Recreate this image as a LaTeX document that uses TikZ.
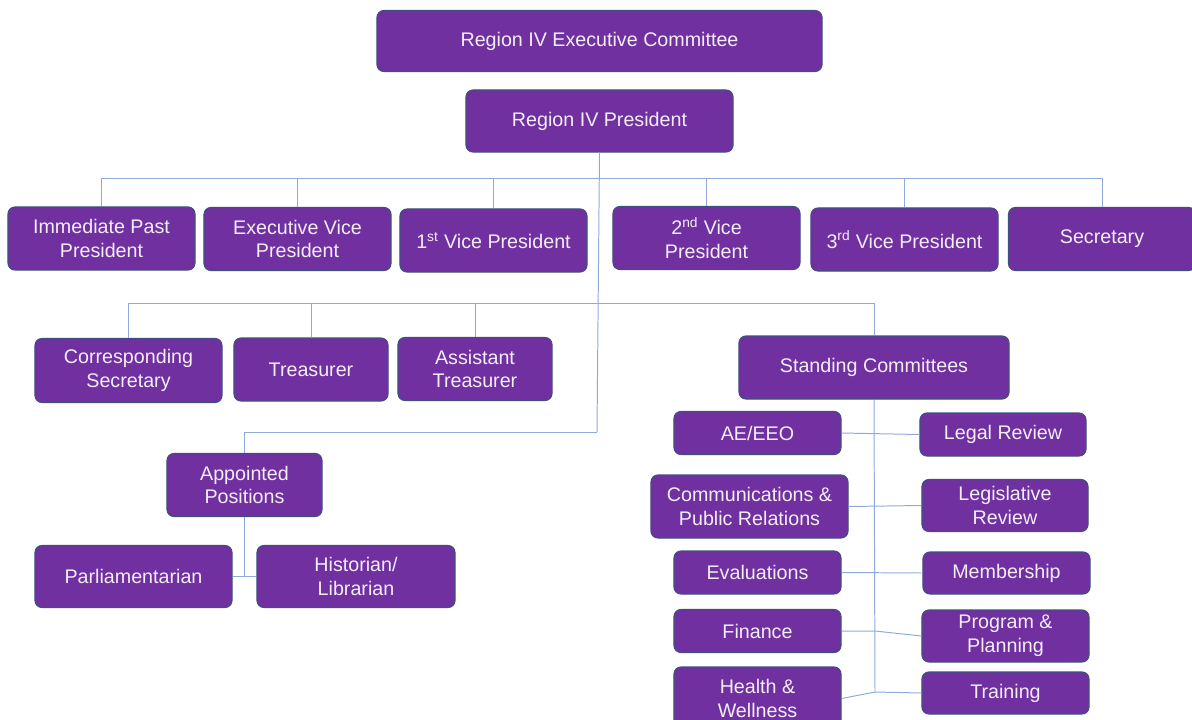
\documentclass[tikz,border=0pt]{standalone}
\usepackage{fontspec}
\setmainfont{Liberation Sans}
\usepackage{tikz}
\usetikzlibrary{calc}

\definecolor{boxfill}{HTML}{7030A0}
\definecolor{boxedge}{HTML}{3F4F82}
\definecolor{linkblue}{HTML}{8EAADB}
\definecolor{boxtext}{HTML}{F4EEF8}

\begin{document}
\begin{tikzpicture}[x=0.025cm,y=-0.025cm]
		\tikzstyle{orgbox}=[draw=boxedge,line width=0.8pt,fill=boxfill,rounded corners=5pt,
			text=boxtext,align=center,inner sep=1pt,font=\fontsize{14}{17}\selectfont]
		\tikzstyle{link}=[draw=linkblue,line width=0.7pt]
		\useasboundingbox (0,0) rectangle (1192,719);
		
		% top
		\node[orgbox,minimum width=11.125cm,minimum height=1.525cm] (exec) at (599.5,41) {Region IV Executive Committee};
		\node[orgbox,minimum width=6.675cm,minimum height=1.55cm] (pres) at (599.5,121) {Region IV President};
		
		% officers
		\node[orgbox,minimum width=4.675cm,minimum height=1.575cm] (pastpres) at (101.5,238.5) {Immediate Past\\President};
		\node[orgbox,minimum width=4.675cm,minimum height=1.575cm] (execvp) at (297.5,239) {Executive Vice\\President};
		\node[orgbox,minimum width=4.675cm,minimum height=1.575cm] (vpone) at (493.5,240.5) {1\textsuperscript{st} Vice President};
		\node[orgbox,minimum width=4.675cm,minimum height=1.575cm] (vptwo) at (706.5,238) {2\textsuperscript{nd} Vice\\President};
		\node[orgbox,minimum width=4.675cm,minimum height=1.575cm] (vpthree) at (904.5,239.5) {3\textsuperscript{rd} Vice President};
		\node[orgbox,minimum width=4.675cm,minimum height=1.575cm] (secy) at (1102,239) {Secretary};
		
		\node[orgbox,minimum width=4.675cm,minimum height=1.6cm] (corrsecy) at (128.5,370.5) {Corresponding\\Secretary};
		\node[orgbox,minimum width=3.85cm,minimum height=1.575cm] (treas) at (311,369.5) {Treasurer};
		\node[orgbox,minimum width=3.85cm,minimum height=1.575cm] (asttreas) at (475,369) {Assistant\\Treasurer};
		\node[orgbox,minimum width=6.75cm,minimum height=1.575cm] (standing) at (874,367.5) {Standing Committees};
		
		% appointed
		\node[orgbox,minimum width=3.875cm,minimum height=1.575cm] (appointed) at (244.5,485) {Appointed\\Positions};
		\node[orgbox,minimum width=4.925cm,minimum height=1.55cm] (parl) at (133.5,576.5) {Parliamentarian};
		\node[orgbox,minimum width=4.95cm,minimum height=1.55cm] (hist) at (356,576.5) {Historian/\\Librarian};
		
		% committees, left column
		\node[orgbox,minimum width=4.175cm,minimum height=1.075cm] (aeeeo) at (757.5,433) {AE/EEO};
		\node[orgbox,minimum width=4.925cm,minimum height=1.575cm] (comm) at (749.5,506.5) {Communications \&\\Public Relations};
		\node[orgbox,minimum width=4.175cm,minimum height=1.075cm] (eval) at (757.5,572.5) {Evaluations};
		\node[orgbox,minimum width=4.175cm,minimum height=1.075cm] (finance) at (757.5,631) {Finance};
		\node[orgbox,minimum width=4.175cm,minimum height=1.575cm] (health) at (757.5,698.5) {Health \&\\Wellness};
		
		% committees, right column
		\node[orgbox,minimum width=4.15cm,minimum height=1.075cm] (legal) at (1003,434.5) {Legal Review};
		\node[orgbox,minimum width=4.15cm,minimum height=1.3cm] (legis) at (1005,505.5) {Legislative\\Review};
		\node[orgbox,minimum width=4.175cm,minimum height=1.05cm] (member) at (1006.5,573) {Membership};
		\node[orgbox,minimum width=4.175cm,minimum height=1.3cm] (program) at (1005.5,636) {Program \&\\Planning};
		\node[orgbox,minimum width=4.175cm,minimum height=1.05cm] (training) at (1005.5,693) {Training};
		
		\coordinate (busone) at (599.5,178);
		\coordinate (bustwo) at (598,303);
		\coordinate (busthree) at (597,432);
		\coordinate (spineend) at (875,692);
		
		% connectors
		\draw[link] (pres.south) -- (busthree);
		\draw[link] (busone) -| (pastpres.north);
		\draw[link] (busone) -| (execvp.north);
		\draw[link] (busone) -| (vpone.north);
		\draw[link] (busone) -| (vptwo.north);
		\draw[link] (busone) -| (vpthree.north);
		\draw[link] (busone) -| (secy.north);
		\draw[link] (bustwo) -| (corrsecy.north);
		\draw[link] (bustwo) -| (treas.north);
		\draw[link] (bustwo) -| (asttreas.north);
		\draw[link] (bustwo) -| (standing.north);
		\draw[link] (busthree) -| (appointed.north);
		\draw[link] (appointed.south) |- (parl.east);
		\draw[link] (appointed.south) |- (hist.west);
		
		\draw[link] (standing.south) -- (spineend);
		\draw[link] (aeeeo.east) -- (legal.west);
		\draw[link] (comm.east) -- (legis.west);
		\draw[link] (eval.east) -- (member.west);
		\draw[link] (finance.east) -- (finance.east -| spineend) -- (program.west);
		\draw[link] (health.east) -- (spineend) -- (training.west);
	
	\end{tikzpicture}
\end{document}
